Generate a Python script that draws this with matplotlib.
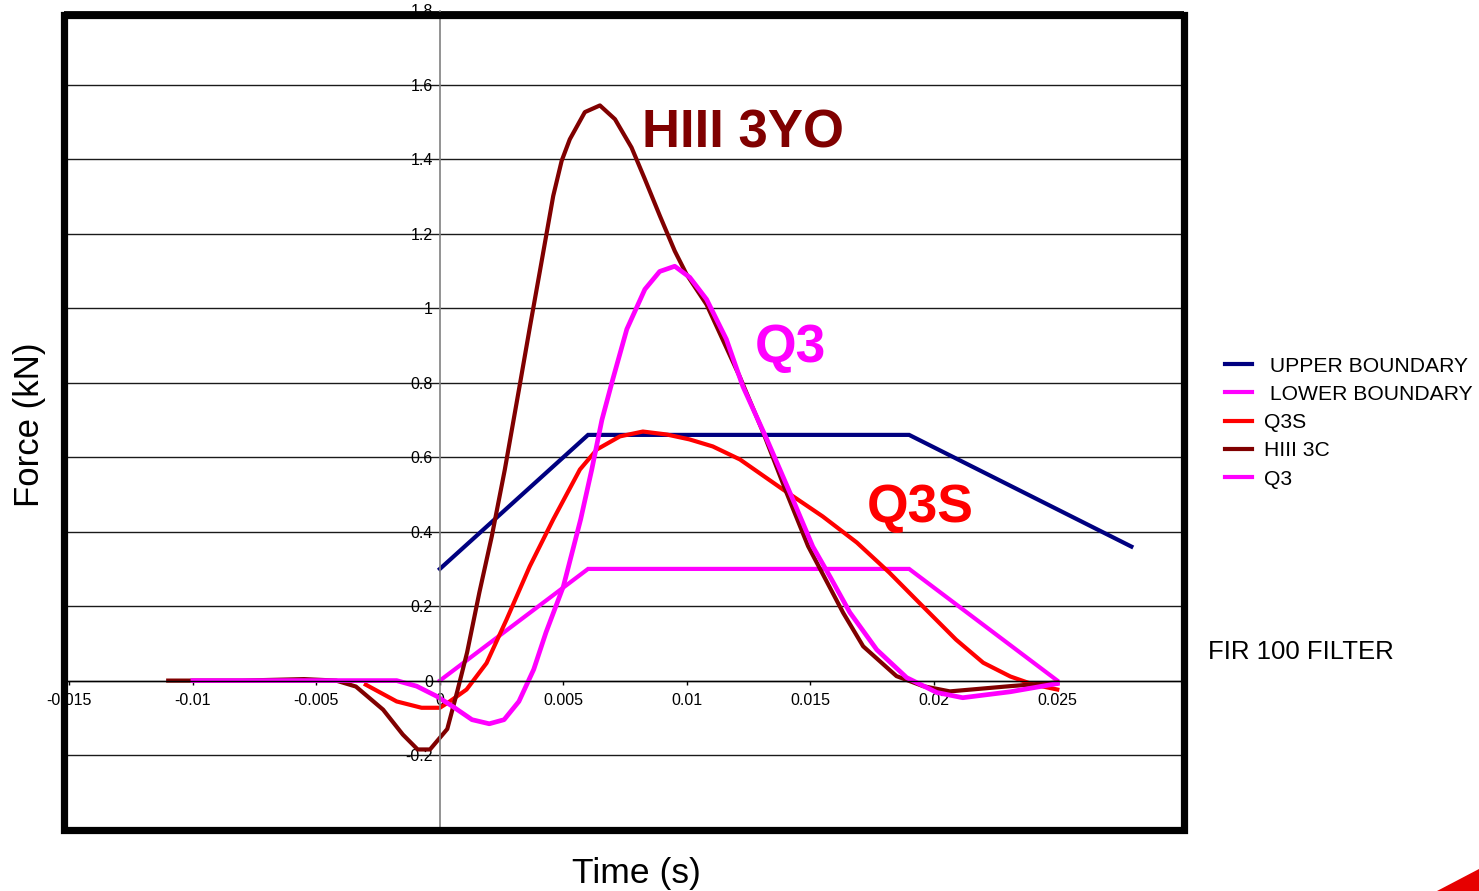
import matplotlib
matplotlib.use("Agg")
import matplotlib.pyplot as plt
from matplotlib.patches import Rectangle, Polygon

plt.rcParams['font.family'] = ['Liberation Sans', 'DejaVu Sans']

# ---- data -------------------------------------------------------------
upper_t = [0.0, 0.006, 0.019, 0.028]
upper_f = [0.30, 0.66, 0.66, 0.36]

lower_t = [0.0, 0.006, 0.019, 0.025]
lower_f = [0.0, 0.30, 0.30, 0.0]

q3s_t = [-0.0030, -0.00175, -0.00074, 0.0, 0.0004, 0.00108, 0.00189, 0.0027,
         0.00364, 0.00459, 0.00567, 0.00636, 0.00729, 0.00822, 0.00919, 0.0101,
         0.01105, 0.01215, 0.0139, 0.0155, 0.01688, 0.0182, 0.01956, 0.0209,
         0.0220, 0.0231, 0.0240, 0.0250]
q3s_f = [-0.011, -0.056, -0.073, -0.073, -0.056, -0.024, 0.047, 0.164,
         0.307, 0.433, 0.567, 0.621, 0.656, 0.669, 0.661, 0.648,
         0.629, 0.594, 0.513, 0.441, 0.371, 0.290, 0.199, 0.110,
         0.048, 0.011, -0.010, -0.024]

hiii_t = [-0.0110, -0.0080, -0.0055, -0.0042, -0.0034, -0.0023, -0.0015, -0.0009,
          -0.0004, 0.0003, 0.0007, 0.0011, 0.0016, 0.0021, 0.00263, 0.00324,
          0.00364, 0.00405, 0.00432, 0.00459, 0.00493, 0.00526, 0.00587, 0.00648,
          0.00709, 0.00776, 0.0083, 0.00891, 0.00951, 0.00999, 0.0108, 0.01215,
          0.0131, 0.01404, 0.01491, 0.01633, 0.01714, 0.01849, 0.01957, 0.02065,
          0.02308, 0.0250]
hiii_f = [0.0, 0.0, 0.004, 0.0, -0.016, -0.078, -0.145, -0.185,
          -0.185, -0.130, -0.030, 0.075, 0.237, 0.387, 0.567, 0.796,
          0.948, 1.100, 1.201, 1.302, 1.396, 1.454, 1.527, 1.545,
          1.508, 1.432, 1.347, 1.248, 1.154, 1.091, 1.010, 0.815,
          0.665, 0.504, 0.361, 0.182, 0.092, 0.012, -0.015, -0.029,
          -0.015, -0.005]

q3_t = [-0.0100, -0.00175, -0.00094, -0.00013, 0.00053, 0.0013, 0.0020, 0.0026,
        0.0032, 0.0038, 0.0043, 0.0050, 0.0057, 0.00615, 0.00656, 0.0070,
        0.00757, 0.0083, 0.0089, 0.00951, 0.01012, 0.0108, 0.0116, 0.01227,
        0.01324, 0.01429, 0.0151, 0.01579, 0.0166, 0.01769, 0.0189, 0.02012,
        0.02117, 0.0231, 0.0250]
q3_f = [0.0, 0.0, -0.015, -0.042, -0.070, -0.105, -0.116, -0.105,
        -0.056, 0.030, 0.130, 0.253, 0.433, 0.567, 0.700, 0.809,
        0.944, 1.051, 1.099, 1.113, 1.083, 1.024, 0.917, 0.790,
        0.648, 0.487, 0.360, 0.280, 0.183, 0.083, 0.008, -0.032,
        -0.046, -0.030, -0.008]

x_ticks = [-0.015, -0.01, -0.005, 0.0, 0.005, 0.01, 0.015, 0.02, 0.025]
x_tick_labels = ["-0.015", "-0.01", "-0.005", "0", "0.005", "0.01", "0.015", "0.02", "0.025"]
y_ticks = [-0.2, 0.0, 0.2, 0.4, 0.6, 0.8, 1.0, 1.2, 1.4, 1.6, 1.8]
y_tick_labels = ["-0.2", "0", "0.2", "0.4", "0.6", "0.8", "1", "1.2", "1.4", "1.6", "1.8"]

# ---- figure -----------------------------------------------------------
W, H = 1479, 891
fig = plt.figure(figsize=(W / 100, H / 100), dpi=100)

def fx(px):
    return px / W

def fy(py):
    return 1 - py / H

ax = fig.add_axes([fx(63.5), fy(829.5), fx(1183.5) - fx(63.5), fy(10.5) - fy(829.5)])
ax.set_xlim(-0.01524, 0.03011)
ax.set_ylim(-0.4, 1.8)

for s in ('top', 'right'):
    ax.spines[s].set_visible(False)
ax.spines['left'].set_position(('data', 0))
ax.spines['left'].set_color('#808080')
ax.spines['left'].set_linewidth(1.2)
ax.spines['bottom'].set_position(('data', 0))
ax.spines['bottom'].set_color('black')
ax.spines['bottom'].set_linewidth(1.0)

ax.set_xticks(x_ticks)
ax.set_xticklabels(x_tick_labels)
ax.set_yticks(y_ticks)
ax.set_yticklabels(y_tick_labels)
ax.tick_params(axis='x', direction='out', length=3, width=1, pad=6, labelsize=11.5)
ax.tick_params(axis='y', length=0, pad=5, labelsize=11.5)
ax.yaxis.grid(True, color='#1a1a1a', linewidth=1.0)
ax.set_axisbelow(True)

lw = 3.0
ax.plot(upper_t, upper_f, color='#000080', lw=lw, label=' UPPER BOUNDARY', solid_joinstyle='miter')
ax.plot(lower_t, lower_f, color='#FF00FF', lw=lw, label=' LOWER BOUNDARY', solid_joinstyle='miter')
ax.plot(q3s_t, q3s_f, color='#FF0000', lw=lw, label='Q3S')
ax.plot(hiii_t, hiii_f, color='#800000', lw=lw, label='HIII 3C')
ax.plot(q3_t, q3_f, color='#FF00FF', lw=3.4, label='Q3')

# curve labels
ax.text(0.00820, 1.433, 'HIII 3YO', color='#800000', fontsize=38, fontweight='bold',
        ha='left', va='baseline')
ax.text(0.01275, 0.855, 'Q3', color='#FF00FF', fontsize=38.5, fontweight='bold',
        ha='left', va='baseline')
ax.text(0.01728, 0.425, 'Q3S', color='#FF0000', fontsize=38.5, fontweight='bold',
        ha='left', va='baseline')

# axis titles
fig.text(fx(636.5), fy(883), 'Time (s)', fontsize=25.5, ha='center', va='baseline')
fig.text(fx(29), fy(425), 'Force (kN)', fontsize=25, rotation=90, ha='center', va='center')

# legend
leg = fig.legend(loc='upper left', bbox_to_anchor=(fx(1225), fy(356.5)), frameon=False,
                 fontsize=15.2, handlelength=1.3, handletextpad=0.55, labelspacing=0.44,
                 borderpad=0, borderaxespad=0)
for line in leg.get_lines():
    line.set_linewidth(3.0)

fig.text(fx(1208), fy(652), 'FIR 100 FILTER', fontsize=18.5, ha='left', va='center')

# chart frame
fig.add_artist(Rectangle((fx(63.5), fy(830)), fx(1183.5) - fx(63.5), fy(14.5) - fy(830),
                         transform=fig.transFigure, fill=False, edgecolor='black',
                         linewidth=5.2, zorder=20, joinstyle='miter'))

# corner mark
fig.add_artist(Polygon([(fx(1437), 0), (1, fy(869)), (1, 0)], closed=True,
                       transform=fig.transFigure, facecolor='#E60000', edgecolor='none',
                       zorder=20))

fig.savefig('out.png', dpi=100)
